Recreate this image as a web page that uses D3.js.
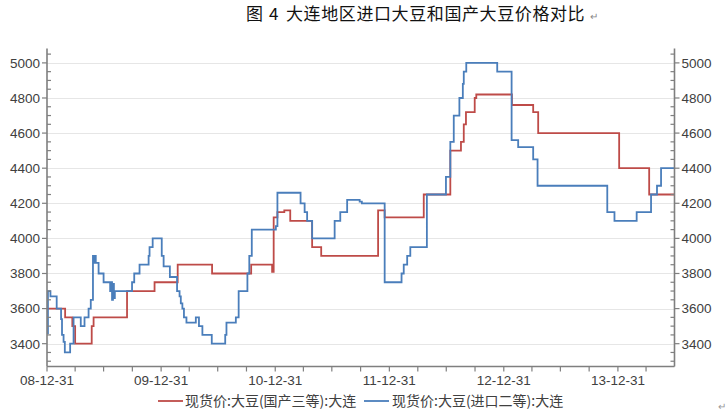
<!DOCTYPE html>
<html>
<head>
<meta charset="utf-8">
<script src="https://cdn.jsdelivr.net/npm/d3@7"></script>
<style>
html,body{margin:0;padding:0;background:#fff;}
svg{display:block;}
</style>
</head>
<body>
<svg id="chart" width="726" height="417"></svg>
<script>
// ---- data ----
const titleParts = ["图", "4", "大连地区进口大豆和国产大豆价格对比"];
const seriesNames = ["现货价:大豆(国产三等):大连", "现货价:大豆(进口二等):大连"];
const seriesColors = ["#be4b48", "#4a7ebb"];
const startDate = "2008-12-31";
const endDate = "2014-06-30";
const xTickLabels = ["08-12-31","09-12-31","10-12-31","11-12-31","12-12-31","13-12-31"];
const xTickDates = ["2008-12-31","2009-12-31","2010-12-31","2011-12-31","2012-12-31","2013-12-31"];
const yTicks = [3400,3600,3800,4000,4200,4400,4600,4800,5000];
const yDomain = [3270, 5082];

const redDates = ["2008-12-31","2009-02-27","2009-03-22","2009-03-31","2009-05-23","2009-05-29","2009-09-13","2009-12-10","2010-02-22","2010-06-12","2010-10-15","2010-12-21","2010-12-26","2011-01-07","2011-01-29","2011-02-17","2011-04-28","2011-05-27","2011-11-25","2011-12-16","2012-04-19","2012-07-13","2012-08-16","2012-08-25","2012-09-01","2012-09-29","2012-10-04","2013-01-26","2013-04-04","2013-04-20","2014-01-04","2014-04-10"];
const redValues = [3600,3550,3500,3400,3500,3550,3700,3750,3850,3800,3850,3810,4120,4150,4160,4100,3950,3900,4160,4120,4250,4500,4550,4650,4720,4800,4820,4760,4720,4600,4400,4250];

const blueDates = ["2008-12-31","2009-01-03","2009-01-11","2009-01-31","2009-02-14","2009-02-17","2009-02-22","2009-02-26","2009-03-15","2009-03-26","2009-04-18","2009-04-30","2009-05-13","2009-05-20","2009-05-27","2009-05-30","2009-06-02","2009-06-05","2009-06-14","2009-06-30","2009-07-21","2009-07-24","2009-07-27","2009-07-30","2009-08-02","2009-08-05","2009-09-29","2009-10-06","2009-10-23","2009-11-21","2009-11-24","2009-12-04","2010-01-02","2010-01-08","2010-01-28","2010-02-20","2010-02-28","2010-03-04","2010-03-09","2010-03-14","2010-03-22","2010-04-21","2010-05-01","2010-05-12","2010-06-11","2010-07-24","2010-07-28","2010-08-27","2010-09-05","2010-10-03","2010-10-09","2010-10-17","2011-01-02","2011-01-07","2011-03-22","2011-04-04","2011-04-12","2011-04-28","2011-07-09","2011-07-27","2011-08-18","2011-09-27","2011-10-04","2011-12-16","2012-02-08","2012-02-15","2012-02-26","2012-03-07","2012-04-29","2012-06-29","2012-07-13","2012-07-24","2012-08-11","2012-08-22","2012-08-25","2012-09-02","2012-12-10","2013-01-25","2013-02-15","2013-04-04","2013-04-18","2013-11-27","2013-12-20","2014-03-01","2014-04-16","2014-05-05","2014-05-18"];
const blueValues = [3460,3700,3670,3600,3540,3450,3410,3350,3400,3550,3500,3550,3600,3650,3900,3860,3900,3860,3800,3750,3700,3750,3650,3740,3660,3700,3750,3800,3850,3900,3950,4000,3900,3840,3780,3700,3670,3630,3600,3550,3520,3550,3500,3450,3400,3450,3520,3550,3700,3800,3900,4050,4070,4260,4200,4150,4100,4000,4100,4150,4220,4210,4200,3750,3800,3850,3900,3950,4250,4350,4550,4700,4800,4880,4950,5000,4950,4560,4520,4450,4300,4150,4100,4150,4250,4300,4400];

// ---- layout ----
const svg = d3.select("#chart");
const parse = d3.timeParse("%Y-%m-%d");
const L = 47, R = 674.5, T = 48.5, B = 366.5;
const x = d3.scaleTime().domain([parse(startDate), parse(endDate)]).range([L, R]);
const y = d3.scaleLinear().domain(yDomain).range([B, T]);
const axisColor = "#7f7f7f";
const textColor = "#404040";
const fontFam = "'Liberation Sans', Arial, sans-serif";

// title
const tf = "'Noto Sans CJK SC', sans-serif";
const title = svg.append("g").attr("font-family", tf).attr("font-size", 17).attr("fill", "#111");
title.append("text").attr("x", 246).attr("y", 20).text(titleParts[0]);
title.append("text").attr("x", 269).attr("y", 20).text(titleParts[1]);
title.append("text").attr("x", 286).attr("y", 20).attr("letter-spacing", 0.6).text(titleParts[2]);
title.append("text").attr("x", 590).attr("y", 20).attr("font-size", 10).attr("fill", "#888").text("↵");

// gridlines
svg.append("g").selectAll("line").data(yTicks).join("line")
  .attr("x1", L).attr("x2", R).attr("y1", d => Math.round(y(d)) + 0.5).attr("y2", d => Math.round(y(d)) + 0.5)
  .attr("stroke", "#e6e6e6").attr("stroke-width", 1);

// lines
const line = d3.line().curve(d3.curveStepAfter).x(d => x(d[0])).y(d => y(d[1]));
function mk(dates, vals) {
  const pts = dates.map((d, i) => [parse(d), vals[i]]);
  pts.push([parse(endDate), vals[vals.length - 1]]);
  return pts;
}
const series = [mk(redDates, redValues), mk(blueDates, blueValues)];
svg.append("g").selectAll("path").data(series).join("path")
  .attr("d", line).attr("fill", "none")
  .attr("stroke", (d, i) => seriesColors[i]).attr("stroke-width", 1.8)
  .attr("stroke-linejoin", "miter");

// y axes
const majorVals = yTicks;
const minorVals = d3.range(3300, 5051, 50).filter(v => v % 200 !== 0 || v < 3400);
function yAxis(xPos, side) {
  const g = svg.append("g");
  g.append("line").attr("x1", xPos).attr("x2", xPos).attr("y1", T).attr("y2", B)
    .attr("stroke", axisColor).attr("stroke-width", 1.6);
  g.selectAll(".mj").data(majorVals).join("line")
    .attr("x1", xPos).attr("x2", xPos + side * 5).attr("y1", d => y(d)).attr("y2", d => y(d))
    .attr("stroke", axisColor).attr("stroke-width", 1.2);
  g.selectAll(".mn").data(minorVals).join("line")
    .attr("x1", xPos).attr("x2", xPos - side * 4).attr("y1", d => y(d)).attr("y2", d => y(d))
    .attr("stroke", axisColor).attr("stroke-width", 1.2);
  g.selectAll("text").data(majorVals).join("text")
    .attr("x", xPos + side * 7).attr("y", d => y(d)).attr("dy", "0.36em")
    .attr("text-anchor", side < 0 ? "end" : "start")
    .attr("font-family", fontFam).attr("font-size", 13.5).attr("fill", textColor)
    .text(d => d);
}
yAxis(L, -1);
yAxis(R, 1);

// x axis
const gx = svg.append("g");
gx.append("line").attr("x1", L).attr("x2", R).attr("y1", B).attr("y2", B)
  .attr("stroke", axisColor).attr("stroke-width", 1.6);
const quarterTicks = d3.timeMonth.every(3).range(parse("2008-12-31"), parse("2014-07-01"))
  .map(d => d3.timeDay.offset(d, -1)).filter(d => d >= parse(startDate));
gx.selectAll(".q").data(quarterTicks).join("line")
  .attr("x1", d => x(d)).attr("x2", d => x(d)).attr("y1", B).attr("y2", B + 5)
  .attr("stroke", axisColor).attr("stroke-width", 1.2);
gx.selectAll("text").data(xTickLabels).join("text")
  .attr("x", (d, i) => x(parse(xTickDates[i]))).attr("y", 385)
  .attr("text-anchor", "middle").attr("font-family", fontFam).attr("font-size", 13.5)
  .attr("fill", textColor).text(d => d);

// legend
const legendPos = [[158, 185], [364, 392]];
const lg = svg.append("g");
seriesNames.forEach((name, i) => {
  lg.append("line").attr("x1", legendPos[i][0]).attr("x2", legendPos[i][0] + 25)
    .attr("y1", 401).attr("y2", 401).attr("stroke", seriesColors[i]).attr("stroke-width", 1.8);
  lg.append("text").attr("x", legendPos[i][1]).attr("y", 401).attr("dy", "0.35em")
    .attr("font-family", "'Noto Sans CJK SC', sans-serif").attr("font-size", 14)
    .attr("fill", textColor).text(name);
});
svg.append("text").attr("x", 718).attr("y", 410).attr("font-size", 10).attr("fill", "#999")
  .attr("font-family", "'Noto Sans CJK SC', sans-serif").text("↵");
</script>
</body>
</html>
